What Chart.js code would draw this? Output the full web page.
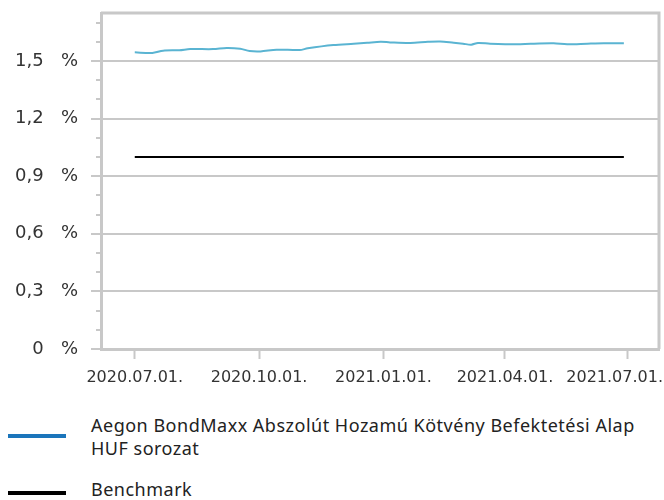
<!DOCTYPE html>
<html lang="hu">
<head>
<meta charset="utf-8">
<script src="https://cdn.jsdelivr.net/npm/chart.js@4/dist/chart.umd.min.js"></script>
<style>
    body { margin: 0; background: #fff; }
    .wrap { position: relative; width: 664px; height: 500px; }
    .chart { position: absolute; left: 0; top: 0; width: 664px; height: 400px; }
    .legend__line { position: absolute; left: 8px; width: 58px; height: 4px; }
    .legend__text {
        position: absolute; left: 91px; width: 560px;
        font-family: 'Noto Sans', sans-serif; font-size: 18px; letter-spacing: 0.5px;
        line-height: 23px; color: #222;
    }
</style>
</head>
<body>
<div class="wrap">
    <div class="chart"><canvas id="chart"></canvas></div>
    <div id="legend"></div>
</div>
<script>
const seriesNames = ['Aegon BondMaxx Abszolút Hozamú Kötvény Befektetési Alap HUF sorozat', 'Benchmark'];
const lineColors = ['#5ab4d2', '#000000'];
const legendColors = ['#1b75bb', '#000000'];

const fundDates = [
    '2020-07-01', '2020-07-14', '2020-07-22', '2020-08-03', '2020-08-11', '2020-08-28',
    '2020-09-07', '2020-09-17', '2020-09-24', '2020-10-02', '2020-10-14', '2020-10-31',
    '2020-11-06', '2020-11-25', '2020-12-10', '2020-12-20', '2020-12-30', '2021-01-06',
    '2021-01-21', '2021-02-03', '2021-02-12', '2021-02-22', '2021-03-01', '2021-03-07',
    '2021-03-12', '2021-03-21', '2021-04-10', '2021-04-20', '2021-05-07', '2021-05-17',
    '2021-06-01', '2021-06-13', '2021-06-28',
];
const fundValues = [
    1.545, 1.542, 1.554, 1.556, 1.562, 1.562,
    1.568, 1.564, 1.552, 1.550, 1.559, 1.557,
    1.566, 1.583, 1.590, 1.595, 1.600, 1.597,
    1.594, 1.600, 1.602, 1.595, 1.590, 1.585,
    1.594, 1.590, 1.587, 1.590, 1.592, 1.587,
    1.590, 1.592, 1.592,
];

const benchmarkDates = [
    '2020-07-01', '2020-08-01', '2020-09-01', '2020-10-01', '2020-11-01', '2020-12-01',
    '2021-01-01', '2021-02-01', '2021-03-01', '2021-04-01', '2021-05-01', '2021-06-01', '2021-06-28',
];
const benchmarkValues = [1.0, 1.0, 1.0, 1.0, 1.0, 1.0, 1.0, 1.0, 1.0, 1.0, 1.0, 1.0, 1.0];

const xTickDates = ['2020-07-01', '2020-10-01', '2021-01-01', '2021-04-01', '2021-07-01'];
const xTickLabels = ['2020.07.01.', '2020.10.01.', '2021.01.01.', '2021.04.01.', '2021.07.01.'];
const xRange = ['2020-06-06', '2021-07-24'];

const yMajorTicks = [0, 0.3, 0.6, 0.9, 1.2, 1.5];
const yMinorTicks = [0.1, 0.2, 0.4, 0.5, 0.7, 0.8, 1.0, 1.1, 1.3, 1.4, 1.6, 1.7];
const yRange = [0, 1.75];

(() => {
    const gray = '#c8c8c8';
    const toPoints = (dates, values) => dates.map((d, i) => ({ x: Date.parse(d), y: values[i] }));
    const formatPercent = (v) => (v === 0 ? '0' : v.toFixed(1).replace('.', ',')) + '   %';

    // short minor ticks left of the y axis + top/right frame
    const framePlugin = {
        id: 'frame',
        beforeDraw(chart) {
            const items = chart.scales.x.getLabelItems();
            const last = items[items.length - 1];
            if (last) {
                last.options.textAlign = 'right';
                last.options.translation[0] = chart.width - 1;
            }
        },
        afterDraw(chart) {
            const { ctx, chartArea } = chart;
            const y = chart.scales.y;
            ctx.save();
            ctx.strokeStyle = gray;
            ctx.lineWidth = 2;
            yMinorTicks.forEach((v) => {
                const py = Math.round(y.getPixelForValue(v));
                ctx.beginPath();
                ctx.moveTo(chartArea.left - 5, py);
                ctx.lineTo(chartArea.left, py);
                ctx.stroke();
            });
            ctx.lineWidth = 3;
            ctx.beginPath();
            ctx.moveTo(chartArea.left, chartArea.top);
            ctx.lineTo(chartArea.right, chartArea.top);
            ctx.lineTo(chartArea.right, chartArea.bottom);
            ctx.stroke();
            ctx.restore();
        },
    };

    new Chart(document.getElementById('chart'), {
        type: 'line',
        data: {
            datasets: [
                {
                    label: seriesNames[0],
                    data: toPoints(fundDates, fundValues),
                    borderColor: lineColors[0],
                    borderWidth: 2,
                    pointRadius: 0,
                    tension: 0.3,
                },
                {
                    label: seriesNames[1],
                    data: toPoints(benchmarkDates, benchmarkValues),
                    borderColor: lineColors[1],
                    borderWidth: 2,
                    pointRadius: 0,
                    tension: 0,
                },
            ],
        },
        options: {
            responsive: true,
            maintainAspectRatio: false,
            animation: false,
            layout: { padding: { top: 13, right: 5, left: 0, bottom: 0 } },
            plugins: { legend: { display: false }, tooltip: { enabled: false } },
            scales: {
                x: {
                    type: 'linear',
                    min: Date.parse(xRange[0]),
                    max: Date.parse(xRange[1]),
                    afterBuildTicks: (scale) => {
                        scale.ticks = xTickDates.map((d) => ({ value: Date.parse(d) }));
                    },
                    afterFit: (scale) => {
                        scale.height = 51;
                        scale.paddingRight = 0;
                        scale.paddingLeft = 0;
                    },
                    ticks: {
                        autoSkip: false,
                        maxRotation: 0,
                        padding: 9,
                        color: '#333',
                        font: { family: 'DejaVu Sans', size: 16 },
                        callback: (v, i) => xTickLabels[i],
                    },
                    grid: { drawOnChartArea: false, tickLength: 10, tickColor: gray, tickWidth: 2 },
                    border: { color: gray, width: 3 },
                },
                y: {
                    min: yRange[0],
                    max: yRange[1],
                    afterBuildTicks: (scale) => {
                        scale.ticks = yMajorTicks.map((v) => ({ value: v }));
                    },
                    afterFit: (scale) => {
                        scale.width = 101;
                        scale.paddingTop = 0;
                        scale.paddingBottom = 0;
                    },
                    ticks: {
                        padding: 13,
                        color: '#333',
                        font: { family: 'DejaVu Sans', size: 18 },
                        callback: (v) => formatPercent(v),
                    },
                    grid: { color: gray, lineWidth: 2, tickLength: 10, tickColor: gray, tickWidth: 2 },
                    border: { color: gray, width: 3 },
                },
            },
        },
        plugins: [framePlugin],
    });

    const legend = document.getElementById('legend');
    const rows = [
        { lineTop: 434, textTop: 414 },
        { lineTop: 491, textTop: 478 },
    ];
    seriesNames.forEach((name, i) => {
        const line = document.createElement('div');
        line.className = 'legend__line';
        line.style.top = rows[i].lineTop + 'px';
        line.style.background = legendColors[i];
        const text = document.createElement('div');
        text.className = 'legend__text';
        text.style.top = rows[i].textTop + 'px';
        text.textContent = name;
        legend.append(line, text);
    });
})();
</script>
</body>
</html>
